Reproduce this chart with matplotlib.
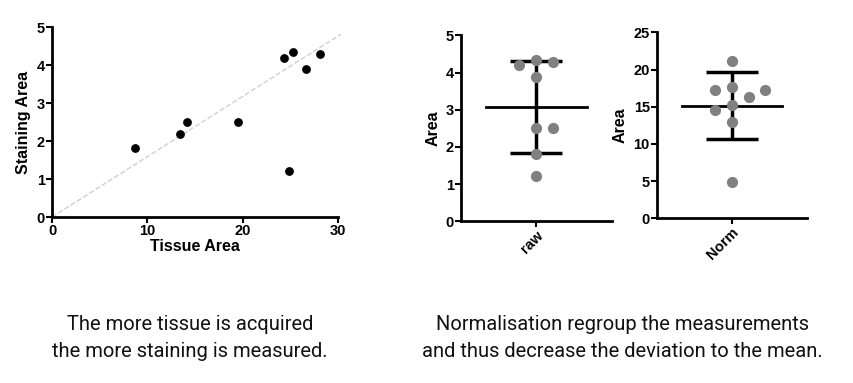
import matplotlib.pyplot as plt

# scatter: tissue area vs staining area
tissue = [8.7, 13.4, 14.2, 19.5, 24.3, 25.3, 24.9, 26.6, 28.1]
staining = [1.82, 2.18, 2.50, 2.50, 4.18, 4.34, 1.22, 3.89, 4.28]
fit_x = [0, 30.3]
fit_y = [0, 4.81]

# raw dot plot
raw_vals = [4.34, 4.19, 4.28, 3.88, 2.50, 2.50, 1.81, 1.23]
raw_jit = [0, -1, 1, 0, 0, 1, 0, 0]
raw_mean = 3.08
raw_sd = 1.24

# normalised dot plot
norm_vals = [21.1, 17.6, 17.2, 17.2, 16.3, 15.2, 14.5, 12.9, 4.9]
norm_jit = [0, 0, -1, 2, 1, 0, -1, 0, 0]
norm_mean = 15.1
norm_sd = 4.5

plt.rcParams['font.family'] = ['Liberation Sans', 'DejaVu Sans']
plt.rcParams['font.weight'] = 'bold'

fig = plt.figure(figsize=(8.54, 3.83), dpi=100)


def style(ax):
    for s in ['top', 'right']:
        ax.spines[s].set_visible(False)
    for s in ['left', 'bottom']:
        ax.spines[s].set_linewidth(2)
    ax.tick_params(width=1.5, length=4, labelsize=10.5, pad=1)
    for lab in ax.get_xticklabels() + ax.get_yticklabels():
        lab.set_fontweight('bold')


ax1 = fig.add_axes([0.0609, 0.4334, 0.3349, 0.496])
ax1.plot(fit_x, fit_y, ls='--', color='#d0d0d0', lw=1, clip_on=False)
ax1.scatter(tissue, staining, s=28, color='black', zorder=3, clip_on=False)
ax1.set_xlim(0, 30)
ax1.set_ylim(0, 5)
ax1.set_xticks([0, 10, 20, 30])
ax1.set_yticks([0, 1, 2, 3, 4, 5])
ax1.set_xlabel('Tissue Area', fontsize=11.5, fontweight='bold', labelpad=1)
ax1.set_ylabel('Staining Area', fontsize=11.5, fontweight='bold', labelpad=4)
style(ax1)


def dotplot(rect, vals, jit, mean, sd, ymax, yticks, name):
    ax = fig.add_axes(rect)
    xs = [j * 0.1 for j in jit]
    ax.errorbar([0], [mean], yerr=[sd], fmt='none', ecolor='black',
                elinewidth=2.5, capsize=19, capthick=2.5, zorder=2)
    ax.plot([-0.297, 0.297], [mean, mean], color='black', lw=2, zorder=2)
    ax.scatter(xs, vals, s=65, color='#808080', zorder=3, clip_on=False,
               linewidths=0)
    ax.set_xlim(-0.444, 0.444)
    ax.set_ylim(0, ymax)
    ax.set_yticks(yticks)
    ax.set_xticks([0])
    ax.set_xticklabels([name], rotation=45, ha='right', rotation_mode='anchor',
                       fontsize=10.5)
    ax.set_ylabel('Area', fontsize=11.5, fontweight='bold', labelpad=4)
    style(ax)
    return ax


dotplot([0.5398, 0.4222, 0.1768, 0.4856], raw_vals, raw_jit, raw_mean,
        raw_sd, 5, [0, 1, 2, 3, 4, 5], 'raw')
dotplot([0.769, 0.430, 0.1756, 0.4856], norm_vals, norm_jit, norm_mean,
        norm_sd, 25, [0, 5, 10, 15, 20, 25], 'Norm')

cap = dict(fontsize=14.5, fontweight='normal', color='#111111', ha='center',
           va='center', family=['Roboto', 'DejaVu Sans'], linespacing=1.55)
fig.text(190 / 854, 1 - 338 / 383,
         'The more tissue is acquired\nthe more staining is measured.', **cap)
fig.text(622 / 854, 1 - 338 / 383,
         'Normalisation regroup the measurements\n'
         'and thus decrease the deviation to the mean.', **cap)

fig.savefig('out.png', dpi=100)
